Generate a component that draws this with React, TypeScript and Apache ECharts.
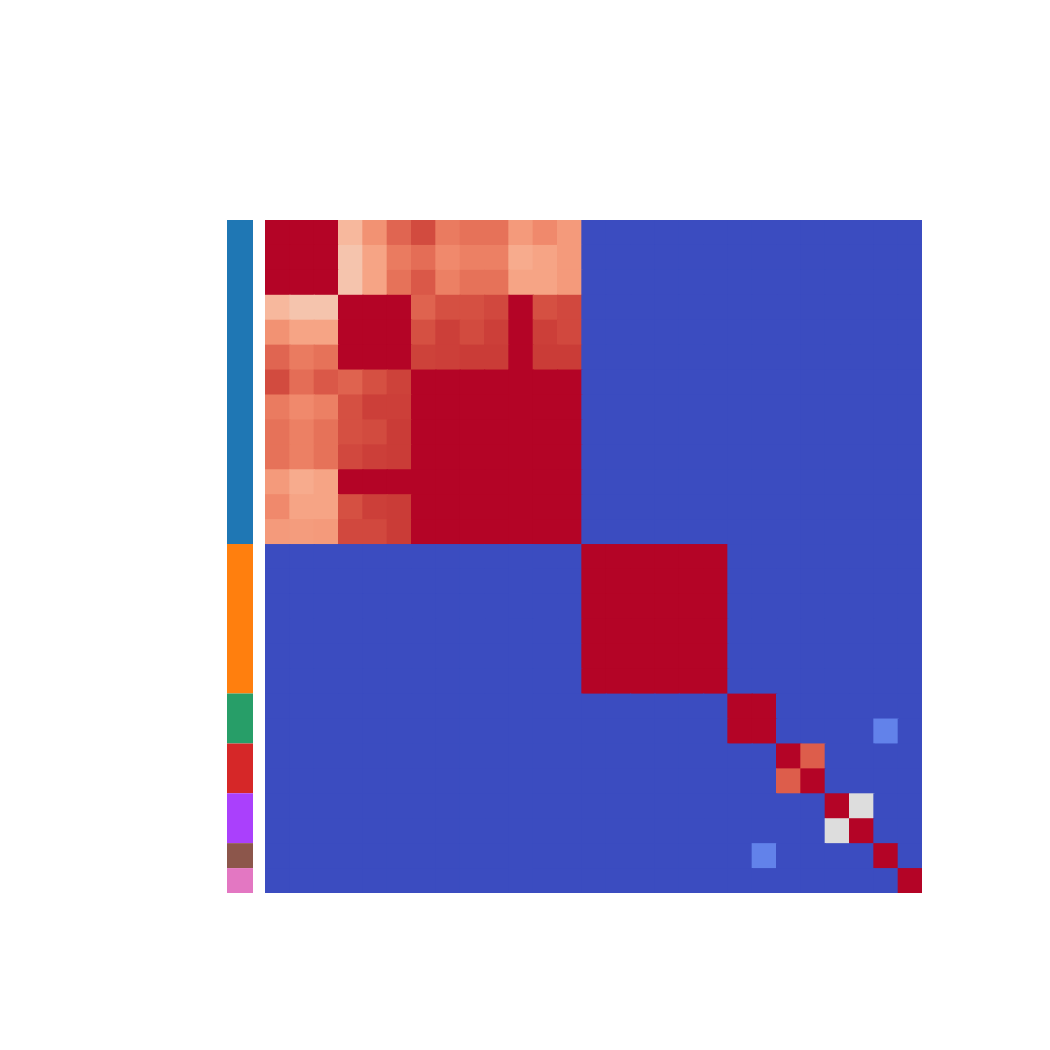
import React, { useEffect, useRef } from "react";
import * as echarts from "echarts";

// 27 clusters, ordered as in the reference
const labels: string[] = [
  "0", "1", "2", "3", "4", "5", "6", "7", "8", "9", "10", "11", "12",
  "13", "14", "15", "16", "17", "18", "19", "20", "21", "22", "23", "24", "25", "26",
];

// group sizes & colours of the left colour bar
const groupNames: string[] = ["A", "B", "C", "D", "E", "F", "G"];
const groupSizes: number[] = [13, 6, 2, 2, 2, 1, 1];
const groupColors: string[] = ["#1f77b4", "#ff7f0e", "#279e68", "#d62728", "#aa40fc", "#8c564b", "#e377c2"];

// similarity matrix (row-major)
const matrix: number[][] = [
  [1, 1, 1, 0.665, 0.77, 0.865, 0.915, 0.82, 0.84, 0.84, 0.75, 0.79, 0.75, 0, 0, 0, 0, 0, 0, 0, 0, 0, 0, 0, 0, 0, 0],
  [1, 1, 1, 0.625, 0.725, 0.82, 0.85, 0.79, 0.81, 0.81, 0.705, 0.725, 0.75, 0, 0, 0, 0, 0, 0, 0, 0, 0, 0, 0, 0, 0, 0],
  [1, 1, 1, 0.625, 0.725, 0.84, 0.89, 0.81, 0.84, 0.84, 0.725, 0.725, 0.75, 0, 0, 0, 0, 0, 0, 0, 0, 0, 0, 0, 0, 0, 0],
  [0.665, 0.625, 0.625, 1, 1, 1, 0.87, 0.906, 0.906, 0.92, 1, 0.906, 0.92, 0, 0, 0, 0, 0, 0, 0, 0, 0, 0, 0, 0, 0, 0],
  [0.77, 0.725, 0.725, 1, 1, 1, 0.906, 0.935, 0.915, 0.935, 1, 0.935, 0.92, 0, 0, 0, 0, 0, 0, 0, 0, 0, 0, 0, 0, 0, 0],
  [0.865, 0.82, 0.84, 1, 1, 1, 0.93, 0.935, 0.94, 0.94, 1, 0.94, 0.94, 0, 0, 0, 0, 0, 0, 0, 0, 0, 0, 0, 0, 0, 0],
  [0.915, 0.85, 0.89, 0.87, 0.906, 0.93, 1, 1, 1, 1, 1, 1, 1, 0, 0, 0, 0, 0, 0, 0, 0, 0, 0, 0, 0, 0, 0],
  [0.82, 0.79, 0.81, 0.906, 0.935, 0.935, 1, 1, 1, 1, 1, 1, 1, 0, 0, 0, 0, 0, 0, 0, 0, 0, 0, 0, 0, 0, 0],
  [0.84, 0.81, 0.84, 0.906, 0.915, 0.94, 1, 1, 1, 1, 1, 1, 1, 0, 0, 0, 0, 0, 0, 0, 0, 0, 0, 0, 0, 0, 0],
  [0.84, 0.81, 0.84, 0.92, 0.935, 0.94, 1, 1, 1, 1, 1, 1, 1, 0, 0, 0, 0, 0, 0, 0, 0, 0, 0, 0, 0, 0, 0],
  [0.75, 0.705, 0.725, 1, 1, 1, 1, 1, 1, 1, 1, 1, 1, 0, 0, 0, 0, 0, 0, 0, 0, 0, 0, 0, 0, 0, 0],
  [0.79, 0.725, 0.725, 0.906, 0.935, 0.94, 1, 1, 1, 1, 1, 1, 1, 0, 0, 0, 0, 0, 0, 0, 0, 0, 0, 0, 0, 0, 0],
  [0.75, 0.745, 0.75, 0.92, 0.92, 0.94, 1, 1, 1, 1, 1, 1, 1, 0, 0, 0, 0, 0, 0, 0, 0, 0, 0, 0, 0, 0, 0],
  [0, 0, 0, 0, 0, 0, 0, 0, 0, 0, 0, 0, 0, 1, 1, 1, 1, 1, 1, 0, 0, 0, 0, 0, 0, 0, 0],
  [0, 0, 0, 0, 0, 0, 0, 0, 0, 0, 0, 0, 0, 1, 1, 1, 1, 1, 1, 0, 0, 0, 0, 0, 0, 0, 0],
  [0, 0, 0, 0, 0, 0, 0, 0, 0, 0, 0, 0, 0, 1, 1, 1, 1, 1, 1, 0, 0, 0, 0, 0, 0, 0, 0],
  [0, 0, 0, 0, 0, 0, 0, 0, 0, 0, 0, 0, 0, 1, 1, 1, 1, 1, 1, 0, 0, 0, 0, 0, 0, 0, 0],
  [0, 0, 0, 0, 0, 0, 0, 0, 0, 0, 0, 0, 0, 1, 1, 1, 1, 1, 1, 0, 0, 0, 0, 0, 0, 0, 0],
  [0, 0, 0, 0, 0, 0, 0, 0, 0, 0, 0, 0, 0, 1, 1, 1, 1, 1, 1, 0, 0, 0, 0, 0, 0, 0, 0],
  [0, 0, 0, 0, 0, 0, 0, 0, 0, 0, 0, 0, 0, 0, 0, 0, 0, 0, 0, 1, 1, 0, 0, 0, 0, 0, 0],
  [0, 0, 0, 0, 0, 0, 0, 0, 0, 0, 0, 0, 0, 0, 0, 0, 0, 0, 0, 1, 1, 0, 0, 0, 0, 0.125, 0],
  [0, 0, 0, 0, 0, 0, 0, 0, 0, 0, 0, 0, 0, 0, 0, 0, 0, 0, 0, 0, 0, 1, 0.88, 0, 0, 0, 0],
  [0, 0, 0, 0, 0, 0, 0, 0, 0, 0, 0, 0, 0, 0, 0, 0, 0, 0, 0, 0, 0, 0.88, 1, 0, 0, 0, 0],
  [0, 0, 0, 0, 0, 0, 0, 0, 0, 0, 0, 0, 0, 0, 0, 0, 0, 0, 0, 0, 0, 0, 0, 1, 0.5, 0, 0],
  [0, 0, 0, 0, 0, 0, 0, 0, 0, 0, 0, 0, 0, 0, 0, 0, 0, 0, 0, 0, 0, 0, 0, 0.5, 1, 0, 0],
  [0, 0, 0, 0, 0, 0, 0, 0, 0, 0, 0, 0, 0, 0, 0, 0, 0, 0, 0, 0, 0.125, 0, 0, 0, 0, 1, 0],
  [0, 0, 0, 0, 0, 0, 0, 0, 0, 0, 0, 0, 0, 0, 0, 0, 0, 0, 0, 0, 0, 0, 0, 0, 0, 0, 1],
];

// matplotlib "coolwarm" colour stops
const coolwarm: string[] = [
  "#3b4cc0", "#445acc", "#4d68d7", "#5775e1", "#6282ea", "#6c8ef1", "#779af7", "#82a5fb",
  "#8db0fe", "#98b9ff", "#a3c2ff", "#aec9fd", "#b8d0f9", "#c2d5f4", "#ccd9ee", "#d5dbe6",
  "#dddddd", "#e5d8d1", "#ecd3c5", "#f1ccb9", "#f5c4ad", "#f7bba0", "#f7b194", "#f7a687",
  "#f49a7b", "#f18d6f", "#ec7f63", "#e57058", "#de604d", "#d55042", "#cb3e38", "#c0282f",
  "#b40426",
];

export default function App() {
  const ref = useRef<HTMLDivElement>(null);
  useEffect(() => {
    if (!ref.current) return;
    const chart = echarts.init(ref.current, undefined, { renderer: "svg" });
    const heatData: number[][] = [];
    matrix.forEach((row, r) => row.forEach((v, c) => heatData.push([c, r, v])));
    const n = labels.length;
    const barSeries = groupSizes.map((s, i) => ({
      type: "bar",
      name: groupNames[i],
      stack: "g",
      xAxisIndex: 1,
      yAxisIndex: 1,
      barWidth: "100%",
      data: [s],
      itemStyle: { color: groupColors[i] },
      silent: true,
    }));
    chart.setOption({
      animation: false,
      backgroundColor: "#ffffff",
      grid: [
        { left: 265, top: 220, width: 657, height: 673 },
        { left: 227, top: 220, width: 26, height: 673 },
      ],
      xAxis: [
        { type: "category", data: labels, gridIndex: 0, show: false },
        { type: "category", data: ["groups"], gridIndex: 1, show: false },
      ],
      yAxis: [
        { type: "category", data: labels, gridIndex: 0, inverse: true, show: false },
        { type: "value", gridIndex: 1, min: 0, max: 27, inverse: true, show: false },
      ],
      visualMap: {
        type: "continuous",
        min: 0,
        max: 1,
        show: false,
        seriesIndex: 0,
        dimension: 2,
        inRange: { color: coolwarm },
      },
      series: [
        {
          type: "custom",
          xAxisIndex: 0,
          yAxisIndex: 0,
          data: heatData,
          encode: { x: 0, y: 1 },
          silent: true,
          renderItem: (params: any, api: any) => {
            const c = api.value(0);
            const r = api.value(1);
            const p = api.coord([c, r]);
            const sz = api.size([1, 1]);
            const ox = c < n - 1 ? 1.2 : 0;
            const oy = r < n - 1 ? 1.2 : 0;
            return {
              type: "rect",
              shape: { x: p[0] - sz[0] / 2, y: p[1] - sz[1] / 2, width: sz[0] + ox, height: sz[1] + oy },
              style: { fill: api.visual("color") },
            };
          },
        },
        ...barSeries,
      ],
    });
    return () => chart.dispose();
  }, []);
  return (
    <div
      ref={ref}
      style={{ position: "fixed", left: 0, top: 0, width: 1050, height: 1050, background: "#fff" }}
    />
  );
}
